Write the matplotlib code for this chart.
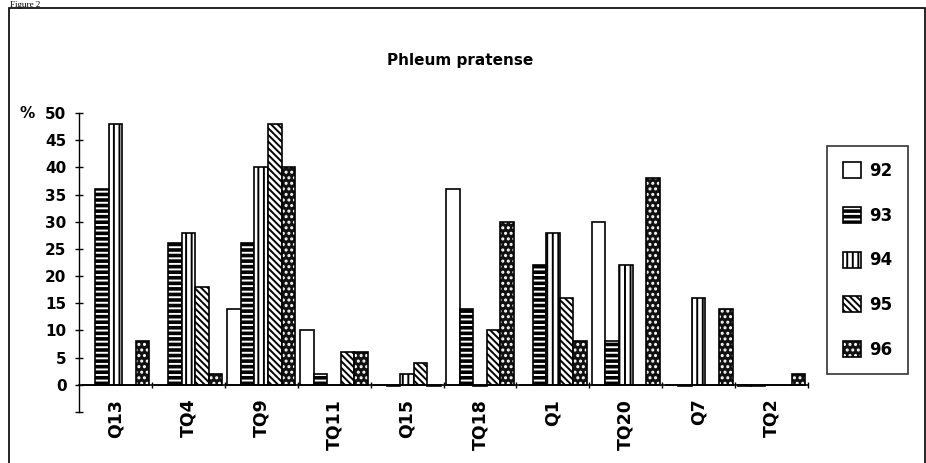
import matplotlib
matplotlib.use("Agg")
import matplotlib.pyplot as plt
import numpy as np
from matplotlib.patches import Rectangle

plt.rcParams['font.family'] = ['DejaVu Sans']
plt.rcParams['font.weight'] = 'bold'
plt.rcParams['hatch.linewidth'] = 1.4

# data
groups = ['Q13', 'TQ4', 'TQ9', 'TQ11', 'Q15', 'TQ18', 'Q1', 'TQ20', 'Q7', 'TQ2']
years = ['92', '93', '94', '95', '96']
y92 = [0, 0, 14, 10, 0, 36, 0, 30, 0, -0.3]
y93 = [36, 26, 26, 2, -0.3, 14, 22, 8, -0.3, -0.3]
y94 = [48, 28, 40, 0, 2, -0.3, 28, 22, 16, 0]
y95 = [0, 18, 48, 6, 4, 10, 16, 0, 0, 0]
y96 = [8, 2, 40, 6, -0.3, 30, 8, 38, 14, 2]
yticks = [-5, 0, 5, 10, 15, 20, 25, 30, 35, 40, 45, 50]

series = [y92, y93, y94, y95, y96]
# (face, hatch, hatch colour)
styles = [('white', None, 'black'),
          ('black', '---', 'white'),
          ('white', '|||', 'black'),
          ('white', '\\\\\\\\\\', 'black'),
          ('#111111', '...', 'white')]

W, H = 926, 463
fig = plt.figure(figsize=(9.26, 4.63), dpi=100)
ax = fig.add_axes([79 / W, 1 - 412 / H, (808 - 79) / W, (412 - 113) / H])

x = np.arange(len(groups)) + 0.5
bw = 0.186
handles = []
for j, vals in enumerate(series):
    face, hatch, hcol = styles[j]
    pos = x + (j - 2) * bw
    b1 = ax.bar(pos, vals, bw, color=face, edgecolor=hcol, hatch=hatch, linewidth=0)
    b2 = ax.bar(pos, vals, bw, fill=False, edgecolor='black', linewidth=1.2)
    handles.append((b1, b2))

ax.set_xlim(0, 10)
ax.set_ylim(-5, 50)
ax.spines['top'].set_visible(False)
ax.spines['right'].set_visible(False)
ax.spines['bottom'].set_position(('data', 0))
ax.spines['bottom'].set_linewidth(1.2)
ax.spines['left'].set_linewidth(1.0)

ax.set_yticks(yticks)
ax.set_yticklabels(['' if v < 0 else str(v) for v in yticks], fontsize=11, fontweight='bold')
ax.tick_params(axis='y', direction='inout', length=6, width=1, pad=6)

ax.set_xticks(x)
ax.set_xticklabels(groups, rotation=90, fontsize=12.5, fontweight='bold', va='top')
ax.set_xticks(np.arange(1, 11), minor=True)
ax.tick_params(axis='x', which='major', length=0, pad=10)
ax.tick_params(axis='x', which='minor', direction='inout', length=5, width=1)

fig.text(20 / W, 1 - 113 / H, '%', fontsize=11, fontweight='bold', va='center', ha='left')
fig.text(460 / W, 1 - 60 / H, 'Phleum pratense', fontsize=11, fontweight='bold',
         ha='center', va='center')
fig.text(10 / W, 1 - 1 / H, 'Figure 2', fontsize=6.5, family='Liberation Serif',
         fontweight='normal', va='top', ha='left')

# outer frame
fig.add_artist(Rectangle((9 / W, -0.1), (925 - 9) / W, 1.1 - 8 / H, transform=fig.transFigure,
                         fill=False, edgecolor='black', linewidth=1.2))

leg = fig.legend(handles, years, loc='upper left', bbox_to_anchor=(827 / W, 1 - 146 / H),
                 borderaxespad=0, handlelength=1.1, handleheight=1.1,
                 handletextpad=0.45, labelspacing=1.6, borderpad=0.95, fancybox=False,
                 frameon=True, prop={'weight': 'bold', 'size': 12})
leg.get_frame().set_edgecolor('black')
leg.get_frame().set_linewidth(1.2)

fig.savefig('out.png', dpi=100)
